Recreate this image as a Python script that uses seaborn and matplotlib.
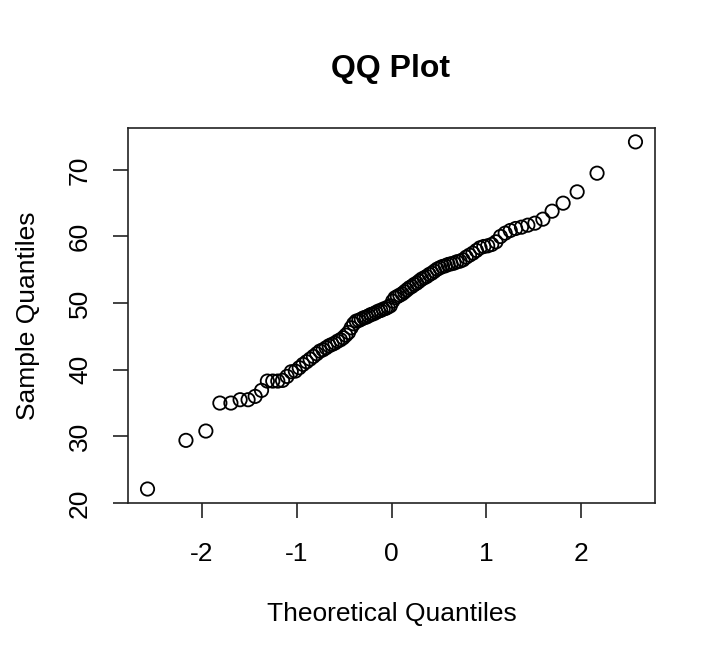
import matplotlib
matplotlib.use("Agg")
import matplotlib.pyplot as plt
import seaborn as sns
import pandas as pd
from statistics import NormalDist

# Sorted sample values (n = 100)
sample_values = [
    22.1, 29.4, 30.8, 35.0, 35.0, 35.5, 35.5, 36.0, 36.9, 38.3,
    38.3, 38.3, 38.4, 39.0, 39.7, 39.8, 40.3, 40.8, 41.2, 41.6,
    42.0, 42.4, 42.8, 43.0, 43.3, 43.6, 43.8, 44.0, 44.3, 44.5,
    44.8, 45.2, 45.6, 46.3, 46.9, 47.3, 47.4, 47.6, 47.8, 47.9,
    48.1, 48.3, 48.4, 48.6, 48.8, 48.9, 49.1, 49.2, 49.4, 49.6,
    50.3, 50.8, 51.0, 51.2, 51.4, 51.7, 52.0, 52.3, 52.5, 52.8,
    53.0, 53.3, 53.6, 53.8, 54.0, 54.3, 54.5, 54.8, 55.1, 55.3,
    55.5, 55.6, 55.8, 55.9, 56.0, 56.2, 56.3, 56.5, 56.9, 57.2,
    57.5, 57.9, 58.3, 58.5, 58.6, 58.8, 59.2, 60.0, 60.5, 60.9,
    61.2, 61.4, 61.7, 62.0, 62.6, 63.8, 65.0, 66.7, 69.5, 74.2,
]
x_ticks = [-2, -1, 0, 1, 2]
y_ticks = [20, 30, 40, 50, 60, 70]
title_text = "QQ Plot"
x_label = "Theoretical Quantiles"
y_label = "Sample Quantiles"

n = len(sample_values)
nd = NormalDist()
theoretical = [nd.inv_cdf((i - 0.5) / n) for i in range(1, n + 1)]
df = pd.DataFrame({"theoretical": theoretical, "sample": sorted(sample_values)})

sns.set_style("white")
plt.rcParams["font.family"] = ["Liberation Sans", "DejaVu Sans"]
plt.rcParams["text.color"] = "black"
plt.rcParams["axes.labelcolor"] = "black"
plt.rcParams["xtick.color"] = "black"
plt.rcParams["ytick.color"] = "black"

fig = plt.figure(figsize=(7.2, 6.64), dpi=100)
ax = fig.add_axes([128 / 720, 1 - 503 / 664, 527 / 720, 375 / 664])

sns.scatterplot(data=df, x="theoretical", y="sample", ax=ax,
                marker="o", s=92, facecolor="none", edgecolor="black",
                linewidth=1.3, legend=False)

xr = max(theoretical) - min(theoretical)
yr = max(sample_values) - min(sample_values)
ax.set_xlim(min(theoretical) - 0.04 * xr, max(theoretical) + 0.04 * xr)
ax.set_ylim(min(sample_values) - 0.04 * yr, max(sample_values) + 0.04 * yr)

ax.set_xticks(x_ticks)
ax.set_xticklabels([str(t) for t in x_ticks])
ax.set_yticks(y_ticks)
ax.set_yticklabels([str(t) for t in y_ticks], rotation=90, va="center")

for sp in ax.spines.values():
    sp.set_visible(True)
    sp.set_color("#222222")
    sp.set_linewidth(1.2)

ax.tick_params(axis="both", which="both", direction="out", length=11,
               width=1.2, color="#222222", labelsize=19, pad=15,
               bottom=True, left=True)
ax.tick_params(axis="x", pad=17)

ax.set_xlabel(x_label, fontsize=19, va="center")
ax.xaxis.set_label_coords(0.5, -0.296)
ax.set_ylabel(y_label, fontsize=19, va="center")
ax.yaxis.set_label_coords(-0.19, 0.5)

fig.text(391 / 720, 1 - 69 / 664, title_text, fontsize=23, fontweight="bold",
         ha="center", va="center")

fig.savefig("out.png", dpi=100, facecolor="white")
